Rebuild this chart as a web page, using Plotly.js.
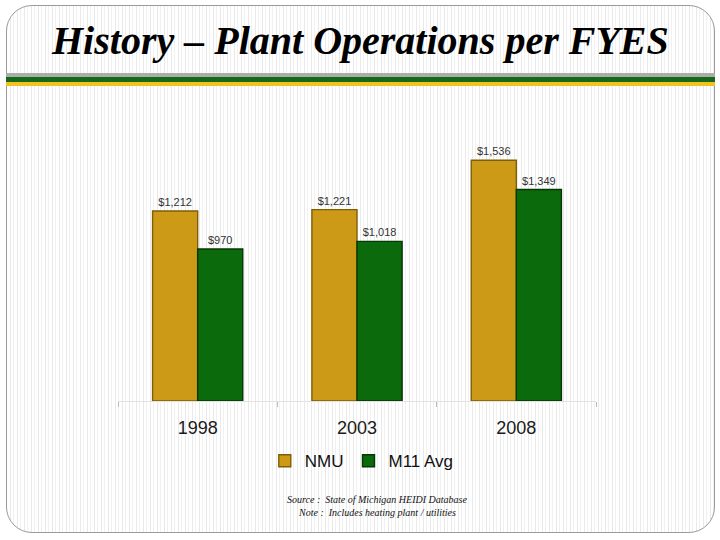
<!DOCTYPE html>
<html>
<head>
<meta charset="utf-8">
<script src="https://cdn.plot.ly/plotly-3.0.1.min.js"></script>
<style>
  html, body { margin: 0; padding: 0; background: #ffffff; }
  #wrap { position: relative; width: 720px; height: 540px; overflow: hidden; }
  #frame {
    position: absolute; left: 6px; top: 5px; width: 707px; height: 526px;
    border: 1px solid #9a9a9a; border-radius: 26px;
    background: repeating-linear-gradient(90deg, #ffffff 0px, #ffffff 3px, #e9e9e9 3px, #e9e9e9 4px, #ffffff 4px, #ffffff 6px, #f1f1f1 6px, #f1f1f1 7px);
  }
  .band { position: absolute; left: 6px; width: 709px; }
  #chart { position: absolute; left: 0; top: 0; width: 720px; height: 540px; }
</style>
</head>
<body>
<div id="wrap">
  <div id="frame"></div>
  <div class="band" style="top:73px;height:4px;background:#a9aea9;"></div>
  <div class="band" style="top:77px;height:5px;background:#16691a;"></div>
  <div class="band" style="top:82px;height:4px;background:#f2c21e;"></div>
  <div id="chart"></div>
</div>
<script>
const categories = ['1998', '2003', '2008'];
const nmuValues = [1212, 1221, 1536];
const m11Values = [970, 1018, 1349];
const seriesNames = ['NMU', 'M11 Avg'];

const labelFont = {family: 'Liberation Sans, Arial, sans-serif', size: 11, color: '#333333'};

const traces = [
  {
    type: 'bar', name: seriesNames[0], x: categories, y: nmuValues,
    marker: {color: '#CC9A17', line: {color: '#7E5E08', width: 1.4}},
    text: nmuValues.map(v => '$' + v.toLocaleString('en-US')),
    textposition: 'outside', textfont: labelFont, cliponaxis: false,
    hoverinfo: 'skip'
  },
  {
    type: 'bar', name: seriesNames[1], x: categories, y: m11Values,
    marker: {color: '#0B6A0B', line: {color: '#043804', width: 1.4}},
    text: m11Values.map(v => '$' + v.toLocaleString('en-US')),
    textposition: 'outside', textfont: labelFont, cliponaxis: false,
    hoverinfo: 'skip'
  }
];

const layout = {
  width: 720, height: 540,
  margin: {l: 118, r: 124, t: 100, b: 139},
  paper_bgcolor: 'rgba(0,0,0,0)',
  plot_bgcolor: 'rgba(0,0,0,0)',
  barmode: 'group',
  bargap: 0.434,
  bargroupgap: 0,
  showlegend: true,
  legend: {
    orientation: 'h', x: 0.51, xanchor: 'center', y: -0.2, yanchor: 'middle',
    font: {family: 'Liberation Sans, Arial, sans-serif', size: 17, color: '#111111'},
    bgcolor: 'rgba(0,0,0,0)', itemclick: false, itemwidth: 30
  },
  xaxis: {
    type: 'category',
    tickson: 'boundaries', ticks: 'outside', ticklen: 5, tickcolor: '#bbbbbb',
    showline: true, linecolor: '#e2e2e2', linewidth: 1,
    showgrid: false, zeroline: false,
    tickfont: {family: 'Liberation Sans, Arial, sans-serif', size: 18, color: '#1a1a1a'},
    ticklabelstandoff: 10
  },
  yaxis: {
    range: [0, 1920], visible: false, showgrid: false, zeroline: false, fixedrange: true
  },
  annotations: [
    {
      text: '<b><i>History – Plant Operations per FYES</i></b>',
      xref: 'paper', yref: 'paper', x: (360 - 118) / 478, y: (401 - 41) / 301,
      xanchor: 'center', yanchor: 'middle', showarrow: false,
      font: {family: 'Liberation Serif, Times New Roman, serif', size: 40, color: '#000000'}
    },
    {
      text: '<i>Source :  State of Michigan HEIDI Database</i>',
      xref: 'paper', yref: 'paper', x: (377 - 118) / 478, y: (401 - 499) / 301,
      xanchor: 'center', yanchor: 'middle', showarrow: false,
      font: {family: 'Liberation Serif, Times New Roman, serif', size: 10, color: '#111111'}
    },
    {
      text: '<i>Note :  Includes heating plant / utilities</i>',
      xref: 'paper', yref: 'paper', x: (377 - 118) / 478, y: (401 - 512) / 301,
      xanchor: 'center', yanchor: 'middle', showarrow: false,
      font: {family: 'Liberation Serif, Times New Roman, serif', size: 10, color: '#111111'}
    }
  ]
};

Plotly.newPlot('chart', traces, layout, {displayModeBar: false, staticPlot: true});
</script>
</body>
</html>
